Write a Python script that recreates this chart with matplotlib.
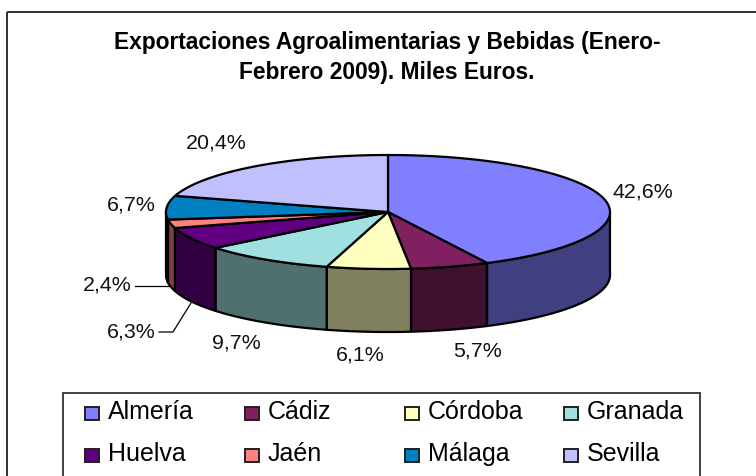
import numpy as np
import matplotlib
matplotlib.use("Agg")
import matplotlib.pyplot as plt
from matplotlib.patches import Polygon, Rectangle

provincias = ["Almería", "Cádiz", "Córdoba", "Granada", "Huelva", "Jaén", "Málaga", "Sevilla"]
valores = [42.6, 5.7, 6.1, 9.7, 6.3, 2.4, 6.7, 20.4]
etiquetas = ["42,6%", "5,7%", "6,1%", "9,7%", "6,3%", "2,4%", "6,7%", "20,4%"]
colores = ["#8080FF", "#802060", "#FFFFC0", "#A0E0E0", "#600080", "#FF8080", "#0080C0", "#C0C0FF"]
colores_lado = ["#404080", "#401030", "#808060", "#507070", "#300040", "#804040", "#004060", "#606080"]

# geometria de la tarta, en pixeles de la imagen
cx, cy = 388, 212
rx, ry = 222, 57
alto = 63

plt.rcParams["font.family"] = ["Liberation Sans", "DejaVu Sans"]
fig = plt.figure(figsize=(7.56, 4.76), dpi=100)
ax = fig.add_axes([0, 0, 1, 1])
ax.set_xlim(0, 756)
ax.set_ylim(476, 0)
ax.axis("off")

# marco exterior (se sale de la imagen por la derecha y por abajo)
ax.add_patch(Rectangle((6.5, 12), 800, 480, fill=False, ec="#303030", lw=1.4))


def borde(a1, a2, dy=0):
    t = np.radians(np.linspace(a1, a2, 80))
    return np.column_stack([cx + rx * np.sin(t), cy - ry * np.cos(t) + dy])


total = sum(valores)
acum = np.cumsum([0] + valores) / total * 360

# primero los lados (solo la mitad de delante se ve)
for i in range(len(valores)):
    a1 = max(acum[i], 90)
    a2 = min(acum[i + 1], 270)
    if a2 > a1:
        arriba = borde(a1, a2)
        abajo = borde(a1, a2, alto)[::-1]
        ax.add_patch(Polygon(np.vstack([arriba, abajo]), fc=colores_lado[i], ec="black", lw=1.6, joinstyle="round"))

# luego la cara de arriba
for i in range(len(valores)):
    pts = np.vstack([[cx, cy], borde(acum[i], acum[i + 1])])
    ax.add_patch(Polygon(pts, fc=colores[i], ec="black", lw=1.6, joinstyle="round"))

# etiquetas
pos_etiquetas = [(643, 192), (478, 351), (360, 355), (236, 343), (131, 332), (107, 285), (131, 205), (216, 143)]
for txt, (x, y) in zip(etiquetas, pos_etiquetas):
    ax.text(x, y, txt, fontsize=15.4, ha="center", va="center", color="#111111")

# lineas guia de 2,4% y 6,3%
ax.plot([135, 169], [286, 286], color="black", lw=0.9)
ax.plot([159, 173, 191], [332, 332, 303], color="black", lw=0.9)

# titulo
ax.text(387, 42, "Exportaciones Agroalimentarias y Bebidas (Enero-", fontsize=16.4, fontweight="bold",
        ha="center", va="center")
ax.text(387, 73, "Febrero 2009). Miles Euros.", fontsize=16.4, fontweight="bold", ha="center", va="center")

# leyenda
ax.add_patch(Rectangle((63, 393), 637, 100, fc="white", ec="#404040", lw=1.4))
col_x = [85, 245, 405, 564]
fila_y = [412, 454]
for i, nombre in enumerate(provincias):
    x = col_x[i % 4]
    y = fila_y[i // 4]
    ax.add_patch(Rectangle((x, y - 5), 14, 13, fc=colores[i], ec="#202020", lw=1.4))
    ax.text(x + 23, y, nombre, fontsize=18, ha="left", va="center")

fig.savefig("out.png", dpi=100)
